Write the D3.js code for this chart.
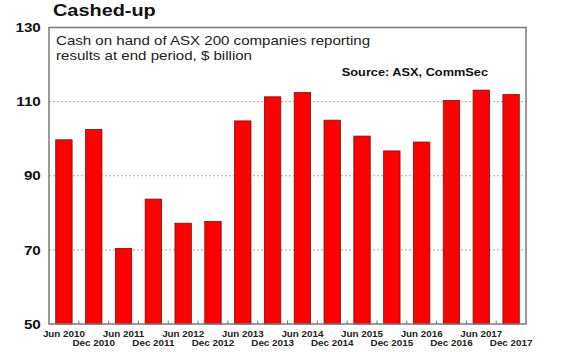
<!DOCTYPE html>
<html>
<head>
<meta charset="utf-8">
<script src="https://cdn.jsdelivr.net/npm/d3@7"></script>
<style>
  body { margin: 0; background: #fff; }
  text { font-family: Arial, "Liberation Sans", sans-serif; }
</style>
</head>
<body>
<div id="chart"></div>
<script>
// ---- data ----
const periods = ["Jun 2010", "Dec 2010", "Jun 2011", "Dec 2011", "Jun 2012", "Dec 2012",
  "Jun 2013", "Dec 2013", "Jun 2014", "Dec 2014", "Jun 2015", "Dec 2015",
  "Jun 2016", "Dec 2016", "Jun 2017", "Dec 2017"];
const cash = [99.7, 102.5, 70.4, 83.7, 77.2, 77.7, 104.8, 111.3, 112.5, 105.0,
  100.7, 96.7, 99.1, 110.3, 113.1, 111.9];
const yTicks = [50, 70, 90, 110, 130];

const width = 580, height = 352;
const plotL = 49, plotR = 526, plotT = 27.5, plotB = 324;
const sx = 1.17; // the source picture is stretched sideways

const svg = d3.select("#chart").append("svg")
  .attr("width", width).attr("height", height);

const x = d3.scaleBand().domain(periods).range([plotL, plotR]).paddingInner(0.45).paddingOuter(0.225);
const y = d3.scaleLinear().domain([50, 130]).range([plotB, plotT]);

// gridlines
svg.append("g").selectAll("line")
  .data(yTicks.filter(t => t > 50 && t < 130))
  .enter().append("line")
  .attr("x1", plotL).attr("x2", plotR)
  .attr("y1", d => y(d)).attr("y2", d => y(d))
  .style("stroke", "#a8a8a8")
  .style("stroke-width", 1)
  .style("stroke-dasharray", "2,2");

// bars
svg.append("g").selectAll("rect")
  .data(cash)
  .enter().append("rect")
  .attr("x", (d, i) => x(periods[i]))
  .attr("width", x.bandwidth())
  .attr("y", d => y(d))
  .attr("height", d => plotB - y(d))
  .style("fill", "#ff0000")
  .style("stroke", "#7a1010")
  .style("stroke-width", 0.8);

// x ticks at band boundaries, pointing inward
const step = x.step();
svg.append("g").selectAll("line")
  .data(periods.slice(1))
  .enter().append("line")
  .attr("x1", d => x(d) - step * 0.225).attr("x2", d => x(d) - step * 0.225)
  .attr("y1", plotB).attr("y2", plotB - 3.5)
  .style("stroke", "#777")
  .style("stroke-width", 1);

// frame
svg.append("rect")
  .attr("x", plotL).attr("y", plotT)
  .attr("width", plotR - plotL).attr("height", plotB - plotT)
  .style("fill", "none")
  .style("stroke", "#7a7a7a")
  .style("stroke-width", 1.5);

// y axis labels
const yAxis = svg.append("g")
  .attr("transform", `translate(${plotL},0)`)
  .call(d3.axisLeft(y).tickValues(yTicks).tickSize(0).tickPadding(7));
yAxis.select(".domain").remove();
yAxis.selectAll("text")
  .attr("transform", `scale(${sx},1)`)
  .style("font-size", "13px")
  .style("font-weight", "bold")
  .style("fill", "#111");

// x labels, Jun on first row and Dec on second
svg.append("g").selectAll("text")
  .data(periods)
  .enter().append("text")
  .attr("transform", (d, i) => `translate(${x(d) + x.bandwidth() / 2},${i % 2 === 0 ? 336.5 : 346})scale(${sx},1)`)
  .attr("text-anchor", "middle")
  .style("font-size", "8.4px")
  .style("font-weight", "bold")
  .style("fill", "#222")
  .text(d => d);

// title and notes
svg.append("text")
  .attr("transform", `translate(53,16)scale(${sx},1)`)
  .style("font-size", "17px")
  .style("font-weight", "bold")
  .style("fill", "#111")
  .text("Cashed-up");

const notes = ["Cash on hand of ASX 200 companies reporting", "results at end period, $ billion"];
svg.append("g").selectAll("text")
  .data(notes)
  .enter().append("text")
  .attr("transform", (d, i) => `translate(56,${45 + i * 14.5})scale(${sx},1)`)
  .style("font-size", "12.9px")
  .style("fill", "#222")
  .text(d => d);

svg.append("text")
  .attr("transform", `translate(488,75.5)scale(${sx},1)`)
  .attr("text-anchor", "end")
  .style("font-size", "10.9px")
  .style("font-weight", "bold")
  .style("fill", "#111")
  .text("Source: ASX, CommSec");
</script>
</body>
</html>
